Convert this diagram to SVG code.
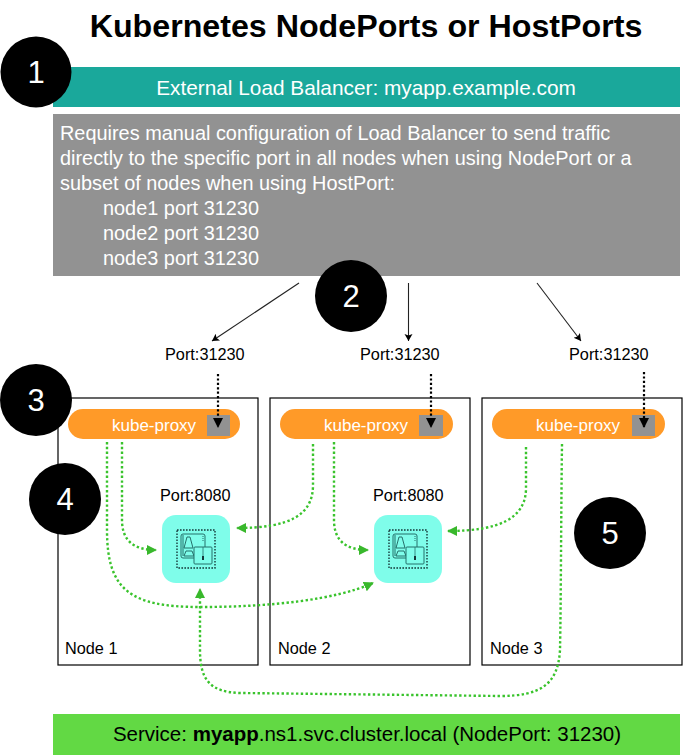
<svg xmlns="http://www.w3.org/2000/svg" xmlns:xlink="http://www.w3.org/1999/xlink" width="684" height="756" viewBox="0 0 684 756">
<style>
text{font-family:"Liberation Sans",Arial,sans-serif;fill:#000}
.w{fill:#fff}
.t17{font-size:19.9px}
.t20{font-size:20.5px}
.lbt{font-size:20.8px}
.p{font-size:16.3px}
.k{font-size:17px;fill:#fff}
.num{font-size:31px;fill:#fff;text-anchor:middle}
.node{fill:#fff;stroke:#000;stroke-width:1.2}
.pill{fill:#ff9a28}
.port{fill:#929292}
.pod{fill:#7ffdea}
.g{fill:none;stroke:#39c32c;stroke-width:2.4;stroke-dasharray:2.4 2.4}
.d{fill:none;stroke:#000;stroke-width:2.2;stroke-dasharray:2.2 2.2}
.s{fill:none;stroke:#222;stroke-width:1.1}
.ic{fill:none;stroke:#25706a;stroke-width:1}
</style>
<defs>
<marker id="ga" markerUnits="userSpaceOnUse" markerWidth="11" markerHeight="11" refX="9" refY="5" orient="auto"><path d="M0,0L10,5L0,10Z" fill="#39b82c"/></marker>
<marker id="ka" markerUnits="userSpaceOnUse" markerWidth="10" markerHeight="10" refX="7" refY="4" orient="auto"><path d="M0,0L7,4L0,8L1.500,4Z" fill="#000"/></marker>
<marker id="da" markerUnits="userSpaceOnUse" markerWidth="11" markerHeight="11" refX="9" refY="5" orient="auto"><path d="M0,0L10,5L0,10Z" fill="#000"/></marker>
<g id="podicon">
<rect x="-19" y="-19" width="38" height="38" fill="none" stroke="#16383a" stroke-width="1.4" stroke-dasharray="1.6 1.4"/>
<rect x="-15" y="-15" width="24" height="24" rx="2" class="ic"/>
<path d="M-13,-14V7" class="ic"/>
<path d="M-12,-1L-9,-12H-6L-3,-1Z" class="ic"/>
<path d="M-12,7L-10,2H-4L-2,7Z" class="ic"/>
<rect x="-2" y="-2" width="18" height="17" rx="1" fill="#7ffdea" stroke="#25706a" stroke-width="1"/>
<path d="M7,-2V7" stroke="#25706a" stroke-width="0.8"/>
<path d="M7,7V11" stroke="#16383a" stroke-width="2"/>
<path d="M7,-13V-8" stroke="#25706a" stroke-width="1" stroke-dasharray="1 1"/>
</g>
</defs>

<text id="title" x="366" y="37" text-anchor="middle" font-size="32.200" font-weight="700">Kubernetes NodePorts or HostPorts</text>

<g id="lb"><rect x="53" y="67" width="627" height="40" fill="#1aa89b"/>
<text x="366" y="95" text-anchor="middle" class="lbt w">External Load Balancer: myapp.example.com</text></g>

<g id="note"><rect x="53" y="114" width="627" height="162" fill="#929292"/>
<text x="60" y="140" class="t17 w">Requires manual configuration of Load Balancer to send traffic</text>
<text x="60" y="165" class="t17 w">directly to the specific port in all nodes when using NodePort or a</text>
<text x="60" y="190" class="t17 w">subset of nodes when using HostPort:</text>
<text x="103" y="215" class="t17 w">node1 port 31230</text>
<text x="103" y="240" class="t17 w">node2 port 31230</text>
<text x="103" y="265" class="t17 w">node3 port 31230</text></g>

<g id="node1"><rect x="58" y="398" width="200" height="267" class="node"/>
<text x="65" y="654" class="p">Node 1</text>
<rect x="68" y="409" width="172" height="30" rx="15" class="pill"/>
<text x="112" y="431" class="k">kube-proxy</text>
<rect x="207" y="415" width="23" height="21" class="port"/>
<text x="160" y="501" class="p">Port:8080</text>
<text x="165" y="360" class="p">Port:31230</text>
<rect x="162" y="515" width="68" height="68" rx="14" class="pod"/>
<use xlink:href="#podicon" href="#podicon" x="196" y="549"/></g>

<g id="node2"><rect x="270" y="398" width="200" height="267" class="node"/>
<text x="278" y="654" class="p">Node 2</text>
<rect x="280" y="409" width="173" height="30" rx="15" class="pill"/>
<text x="324" y="431" class="k">kube-proxy</text>
<rect x="419" y="415" width="24" height="21" class="port"/>
<text x="360" y="360" class="p">Port:31230</text>
<text x="373" y="501" class="p">Port:8080</text>
<rect x="374" y="515" width="68" height="68" rx="14" class="pod"/>
<use xlink:href="#podicon" href="#podicon" x="408" y="549"/></g>

<g id="node3"><rect x="482" y="398" width="200" height="267" class="node"/>
<text x="490" y="654" class="p">Node 3</text>
<rect x="492" y="409" width="173" height="30" rx="15" class="pill"/>
<text x="536" y="431" class="k">kube-proxy</text>
<rect x="632" y="415" width="23" height="21" class="port"/>
<text x="569" y="360" class="p">Port:31230</text></g>

<g id="service"><rect x="53" y="714" width="627" height="41" fill="#62d944"/>
<text x="367" y="741" text-anchor="middle" class="t20">Service: <tspan font-weight="700">myapp</tspan>.ns1.svc.cluster.local (NodePort: 31230)</text></g>

<g id="connectors">
<path d="M299,283L212,341" class="s" marker-end="url(#ka)"/>
<path d="M408.500,283V341" class="s" marker-end="url(#ka)"/>
<path d="M537,283L581,341" class="s" marker-end="url(#ka)"/>
<path d="M218,374V427" class="d" marker-end="url(#da)"/>
<path d="M431,374V427" class="d" marker-end="url(#da)"/>
<path d="M644,372V427" class="d" marker-end="url(#da)"/>
<path d="M122,442V520C122,540 133,550 156,550" class="g" marker-end="url(#ga)"/>
<path d="M107,442V530C107,590 130,607 200,607C270,607 335,600 373,583" class="g" marker-end="url(#ga)"/>
<path d="M313,444V485C313,515 290,528 237,528" class="g" marker-end="url(#ga)"/>
<path d="M334,442V520C334,540 345,550 368,550" class="g" marker-end="url(#ga)"/>
<path d="M526,447V488C526,518 500,531 448,531" class="g" marker-end="url(#ga)"/>
<path d="M562,444C561,520 561,600 560,650C558,685 540,696 500,696L240,693C210,692 200,680 200,650V589" class="g" marker-end="url(#ga)"/>
</g>

<g id="badge1"><circle cx="36" cy="72" r="35.500"/><text x="36" y="83" class="num">1</text></g>
<g id="badge2"><circle cx="351" cy="296" r="36"/><text x="351" y="307" class="num">2</text></g>
<g id="badge3"><circle cx="36" cy="400" r="36"/><text x="36" y="411" class="num">3</text></g>
<g id="badge4"><circle cx="65" cy="499" r="36"/><text x="65" y="510" class="num">4</text></g>
<g id="badge5"><circle cx="610" cy="533" r="36"/><text x="610" y="544" class="num">5</text></g>
</svg>
